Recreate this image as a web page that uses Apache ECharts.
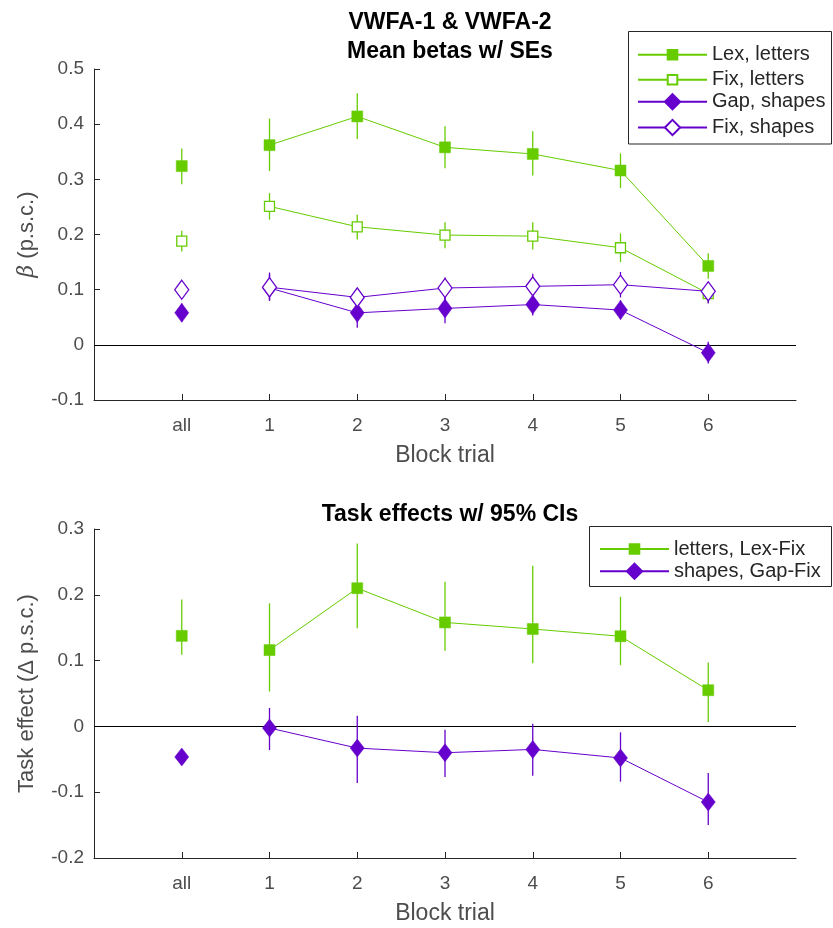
<!DOCTYPE html>
<html>
<head>
<meta charset="utf-8">
<script src="https://cdn.jsdelivr.net/npm/echarts@6/dist/echarts.min.js"></script>
<style>html,body{margin:0;padding:0;background:#fff;}#c{width:833px;height:928px;}</style>
</head>
<body>
<div id="c"></div>
<script>
// ---- Data ----
const xLabels = ['all', '1', '2', '3', '4', '5', '6'];

// Top panel: mean betas with SEs
const lexLetters   = [0.324, 0.362, 0.414, 0.358, 0.346, 0.316, 0.143];
const lexLettersLo = [0.291, 0.315, 0.373, 0.320, 0.307, 0.284, 0.120];
const lexLettersHi = [0.356, 0.410, 0.456, 0.396, 0.387, 0.347, 0.166];

const fixLetters   = [0.188, 0.251, 0.214, 0.199, 0.197, 0.176, 0.093];
const fixLettersLo = [0.169, 0.227, 0.191, 0.175, 0.173, 0.150, 0.076];
const fixLettersHi = [0.207, 0.275, 0.236, 0.222, 0.222, 0.202, 0.110];

const gapShapes    = [0.058, 0.103, 0.058, 0.066, 0.073, 0.063, -0.0145];
const gapShapesLo  = [0.042, 0.080, 0.031, 0.039, 0.053, 0.046, -0.034];
const gapShapesHi  = [0.075, 0.128, 0.086, 0.086, 0.093, 0.081, 0.0055];

const fixShapes    = [0.100, 0.1045, 0.086, 0.103, 0.106, 0.109, 0.097];
const fixShapesLo  = [0.088, 0.080, 0.069, 0.083, 0.082, 0.086, 0.075];
const fixShapesHi  = [0.112, 0.131, 0.101, 0.122, 0.129, 0.132, 0.114];

// Bottom panel: task effects with 95% CIs
const lettersEffect   = [0.1376, 0.116, 0.210, 0.158, 0.148, 0.137, 0.055];
const lettersEffectLo = [0.109, 0.053, 0.149, 0.115, 0.096, 0.093, 0.0066];
const lettersEffectHi = [0.193, 0.187, 0.278, 0.220, 0.244, 0.197, 0.097];

const shapesEffect    = [-0.0465, -0.0025, -0.033, -0.040, -0.035, -0.048, -0.115];
const shapesEffectLo  = [-0.054, -0.036, -0.086, -0.077, -0.075, -0.084, -0.150];
const shapesEffectHi  = [-0.039, 0.028, 0.016, -0.005, 0.004, -0.009, -0.071];

const topTicks = [-0.1, 0, 0.1, 0.2, 0.3, 0.4, 0.5];
const bottomTicks = [-0.2, -0.1, 0, 0.1, 0.2, 0.3];

// ---- Styling ----
const GREEN = '#66cc00';
const PURPLE = '#6600cc';
const FONT = '"Liberation Sans", Helvetica, Arial, sans-serif';
const AXIS_COLOR = '#262626';
const LABEL_COLOR = '#4d4d4d';

const xPos = xLabels.map((_, i) => i + 1);

function errBarSeries(gi, lo, hi, color) {
  return {
    type: 'custom',
    xAxisIndex: gi, yAxisIndex: gi,
    silent: true, z: 1,
    data: lo.map((l, i) => [xPos[i], l, hi[i]]),
    encode: { x: 0, y: [1, 2] },
    renderItem: function (params, api) {
      const p1 = api.coord([api.value(0), api.value(1)]);
      const p2 = api.coord([api.value(0), api.value(2)]);
      return {
        type: 'line',
        shape: { x1: p1[0], y1: p1[1], x2: p2[0], y2: p2[1] },
        style: { stroke: color, lineWidth: 1.3 }
      };
    }
  };
}

function markerSeries(gi, name, vals, color, symbol, size, open, withZero) {
  const itemStyle = open
    ? { color: '#ffffff', borderColor: color, borderWidth: 1.3, opacity: 1 }
    : { color: color, borderColor: color, borderWidth: 0.5, opacity: 1 };
  const lineS = {
    type: 'line', name: name,
    xAxisIndex: gi, yAxisIndex: gi,
    data: vals.slice(1).map((v, i) => [xPos[i + 1], v]),
    symbol: symbol, symbolSize: size, showSymbol: true,
    lineStyle: { color: color, width: 1 },
    itemStyle: itemStyle,
    z: 3, silent: true, animation: false
  };
  if (withZero) {
    lineS.markLine = {
      silent: true, symbol: 'none', label: { show: false },
      lineStyle: { color: '#000', width: 1, type: 'solid' },
      data: [{ yAxis: 0 }],
      z: 1
    };
  }
  const allS = {
    type: 'scatter', name: name,
    xAxisIndex: gi, yAxisIndex: gi,
    data: [[xPos[0], vals[0]]],
    symbol: symbol, symbolSize: size,
    itemStyle: itemStyle,
    z: 3, silent: true, animation: false
  };
  return [lineS, allS];
}

function xAxisDef(gi) {
  return {
    type: 'value', gridIndex: gi, min: 0, max: 8, interval: 1,
    name: 'Block trial', nameLocation: 'middle', nameGap: 44,
    nameTextStyle: { fontFamily: FONT, fontSize: 23, color: LABEL_COLOR },
    axisLine: { show: true, onZero: false, lineStyle: { color: AXIS_COLOR, width: 1 } },
    axisTick: { show: true, inside: true, length: 6, customValues: xPos, lineStyle: { color: AXIS_COLOR } },
    axisLabel: {
      show: true, customValues: xPos, margin: 16,
      fontFamily: FONT, fontSize: 19, color: LABEL_COLOR,
      formatter: v => xLabels[Math.round(v) - 1] || ''
    },
    splitLine: { show: false }
  };
}

function yAxisDef(gi, min, max, name, ticks) {
  return {
    type: 'value', gridIndex: gi, min: min, max: max, interval: 0.1,
    name: name, nameLocation: 'middle', nameGap: 56,
    nameTextStyle: {
      fontFamily: FONT, fontSize: 22, color: LABEL_COLOR,
      rich: {
        b: { fontFamily: '"DejaVu Serif", "Liberation Serif", serif', fontStyle: 'italic', fontSize: 22, color: LABEL_COLOR },
        t: { fontFamily: FONT, fontSize: 22, color: LABEL_COLOR }
      }
    },
    axisLine: { show: true, onZero: false, lineStyle: { color: AXIS_COLOR, width: 1 } },
    axisTick: { show: true, inside: true, length: 6, customValues: ticks, lineStyle: { color: AXIS_COLOR } },
    axisLabel: {
      show: true, customValues: ticks, margin: 10,
      fontFamily: FONT, fontSize: 19, color: LABEL_COLOR,
      formatter: v => String(Math.round(v * 10) / 10)
    },
    splitLine: { show: false }
  };
}

function legendItem(name, left, centerY, h) {
  return {
    data: [name], orient: 'vertical', left: left, top: centerY - h / 2,
    itemWidth: 69, itemHeight: h, padding: 0, selectedMode: false,
    textStyle: { fontFamily: FONT, fontSize: 20, color: '#262626' },
    z: 6
  };
}

const series = [
  errBarSeries(0, lexLettersLo, lexLettersHi, GREEN),
  errBarSeries(0, fixLettersLo, fixLettersHi, GREEN),
  errBarSeries(0, gapShapesLo, gapShapesHi, PURPLE),
  errBarSeries(0, fixShapesLo, fixShapesHi, PURPLE),
  ...markerSeries(0, 'Lex, letters', lexLetters, GREEN, 'rect', 11, false, true),
  ...markerSeries(0, 'Fix, letters', fixLetters, GREEN, 'rect', 10, true, false),
  ...markerSeries(0, 'Gap, shapes', gapShapes, PURPLE, 'diamond', [14, 19], false, false),
  ...markerSeries(0, 'Fix, shapes', fixShapes, PURPLE, 'diamond', [14, 19], true, false),
  errBarSeries(1, lettersEffectLo, lettersEffectHi, GREEN),
  errBarSeries(1, shapesEffectLo, shapesEffectHi, PURPLE),
  ...markerSeries(1, 'letters, Lex-Fix', lettersEffect, GREEN, 'rect', 11, false, true),
  ...markerSeries(1, 'shapes, Gap-Fix', shapesEffect, PURPLE, 'diamond', [14, 18], false, false)
];

const chart = echarts.init(document.getElementById('c'), null, { renderer: 'canvas' });
chart.setOption({
  backgroundColor: '#ffffff',
  animation: false,
  title: [
    {
      text: 'VWFA-1 & VWFA-2\nMean betas w/ SEs',
      left: 445, top: 3, textAlign: 'center',
      textStyle: { fontFamily: FONT, fontSize: 23, fontWeight: 'bold', color: '#000', lineHeight: 29 }
    },
    {
      text: 'Task effects w/ 95% CIs',
      left: 445, top: 495, textAlign: 'center',
      textStyle: { fontFamily: FONT, fontSize: 23, fontWeight: 'bold', color: '#000', lineHeight: 29 }
    }
  ],
  grid: [
    { left: 94, right: 37, top: 69, height: 331, containLabel: false },
    { left: 94, right: 37, top: 529, height: 329, containLabel: false }
  ],
  xAxis: [xAxisDef(0), xAxisDef(1)],
  yAxis: [
    yAxisDef(0, -0.1, 0.5, '{b|β} {t|(p.s.c.)}', topTicks),
    yAxisDef(1, -0.2, 0.3, 'Task effect (Δ p.s.c.)', bottomTicks)
  ],
  legend: [
    legendItem('Lex, letters', 637, 50.7, 12),
    legendItem('Fix, letters', 637, 75.7, 12),
    legendItem('Gap, shapes', 637, 101.3, 19),
    legendItem('Fix, shapes', 637, 127, 19),
    legendItem('letters, Lex-Fix', 599, 545, 12),
    legendItem('shapes, Gap-Fix', 599, 570.7, 19)
  ],
  graphic: [
    { type: 'rect', z: 4, silent: true, shape: { x: 628.5, y: 31.5, width: 203, height: 112.5 },
      style: { fill: '#ffffff', stroke: '#262626', lineWidth: 1 } },
    { type: 'rect', z: 4, silent: true, shape: { x: 589.5, y: 526.5, width: 242, height: 60 },
      style: { fill: '#ffffff', stroke: '#262626', lineWidth: 1 } }
  ],
  series: series
});
</script>
</body>
</html>
